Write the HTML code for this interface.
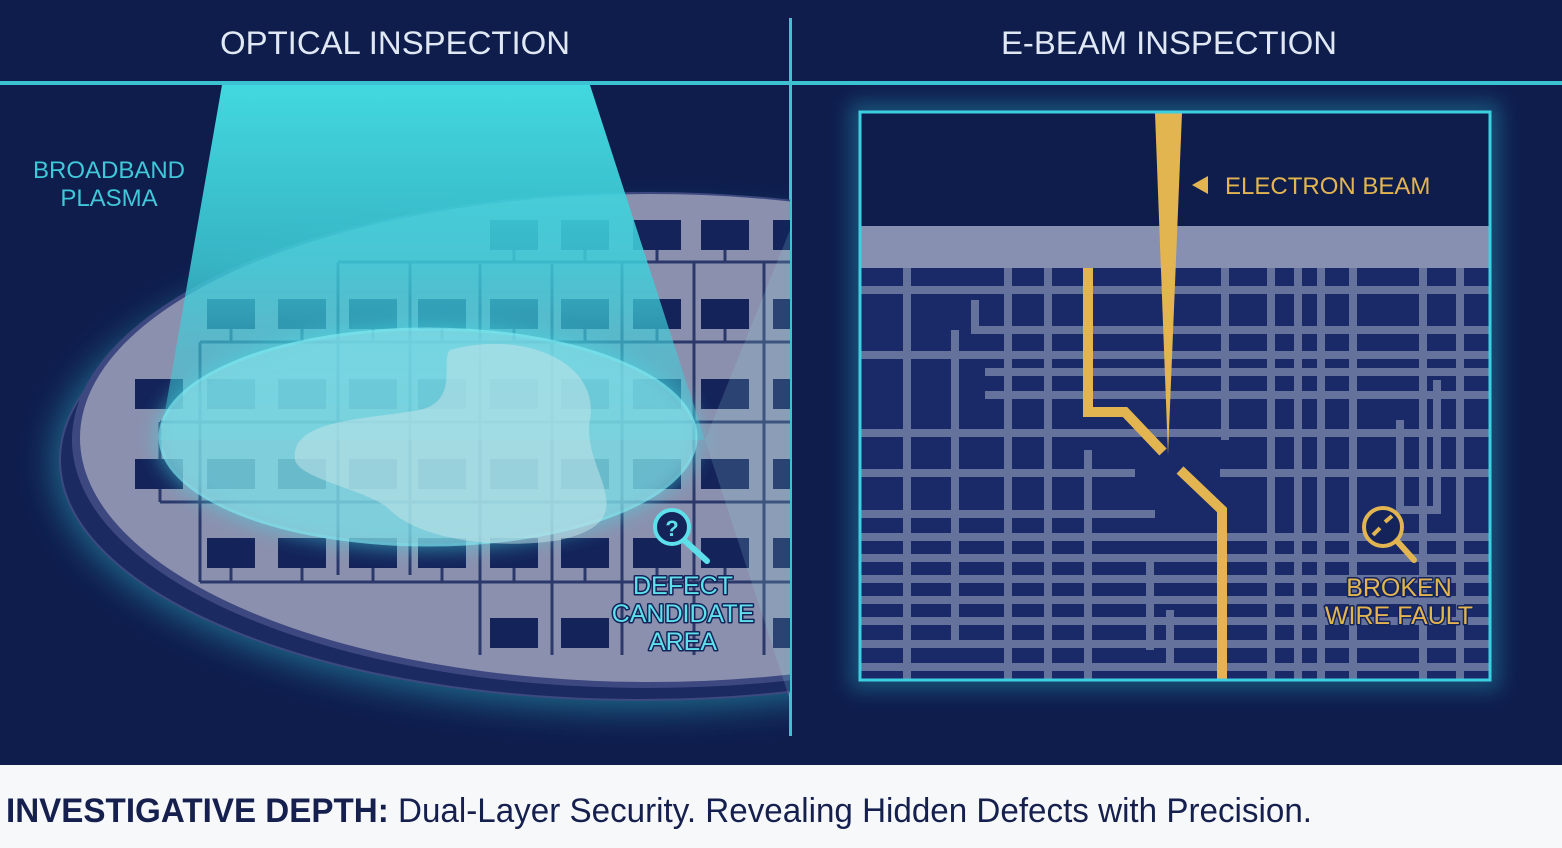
<!DOCTYPE html>
<html><head><meta charset="utf-8"><style>
html,body{margin:0;padding:0;background:#0f1d4d;}
svg{display:block;}
text{font-family:"Liberation Sans",sans-serif;}
</style></head><body>
<svg width="1562" height="848" viewBox="0 0 1562 848" xmlns="http://www.w3.org/2000/svg">
<defs>
<clipPath id="lp"><rect x="0" y="85" width="790" height="680"/></clipPath>
<clipPath id="bx"><rect x="861" y="113" width="628" height="566"/></clipPath>
<filter id="gl" x="-30%" y="-30%" width="160%" height="160%"><feGaussianBlur stdDeviation="10"/></filter>
<filter id="gw" x="-30%" y="-30%" width="160%" height="160%"><feGaussianBlur stdDeviation="18"/></filter>
<linearGradient id="beam" x1="0" y1="0" x2="0" y2="1"><stop offset="0" stop-color="#42d8e0"/><stop offset="0.5" stop-color="#3ecfda" stop-opacity="0.85"/><stop offset="1" stop-color="#3ecfda" stop-opacity="0.35"/></linearGradient>
</defs>
<rect width="1562" height="848" fill="#0f1d4d"/>
<text x="395" y="54" font-size="32" fill="#dfe8f3" text-anchor="middle" textLength="350" lengthAdjust="spacingAndGlyphs">OPTICAL INSPECTION</text>
<text x="1169" y="54" font-size="32" fill="#dfe8f3" text-anchor="middle" textLength="336" lengthAdjust="spacingAndGlyphs">E-BEAM INSPECTION</text>
<rect x="0" y="81" width="1562" height="4" fill="#3bc3d3"/>
<rect x="789" y="18" width="3" height="718" fill="#3bc3d3"/>

<g clip-path="url(#lp)">
  <ellipse cx="640" cy="462" rx="585" ry="245" fill="#2fb6c8" opacity="0.55" filter="url(#gw)"/>
  <ellipse cx="640" cy="460" rx="580" ry="240" fill="#1c2a62" stroke="#3d4a80" stroke-width="2"/>
  <ellipse cx="648" cy="440" rx="576" ry="248" fill="#3d4880"/>
  <ellipse cx="650" cy="438" rx="570" ry="244" fill="#8b90ae"/>
  <g fill="#14235a">
  <rect x="490" y="220" width="48" height="30"/><rect x="561" y="220" width="48" height="30"/><rect x="633" y="220" width="48" height="30"/><rect x="701" y="220" width="48" height="30"/><rect x="773" y="220" width="48" height="30"/>
  <rect x="207" y="299" width="48" height="30"/><rect x="278" y="299" width="48" height="30"/><rect x="349" y="299" width="48" height="30"/><rect x="418" y="299" width="48" height="30"/><rect x="490" y="299" width="48" height="30"/><rect x="561" y="299" width="48" height="30"/><rect x="633" y="299" width="48" height="30"/><rect x="701" y="299" width="48" height="30"/><rect x="773" y="299" width="48" height="30"/>
  <rect x="135" y="379" width="48" height="30"/><rect x="207" y="379" width="48" height="30"/><rect x="278" y="379" width="48" height="30"/><rect x="349" y="379" width="48" height="30"/><rect x="418" y="379" width="48" height="30"/><rect x="490" y="379" width="48" height="30"/><rect x="561" y="379" width="48" height="30"/><rect x="633" y="379" width="48" height="30"/><rect x="701" y="379" width="48" height="30"/><rect x="773" y="379" width="48" height="30"/>
  <rect x="135" y="459" width="48" height="30"/><rect x="207" y="459" width="48" height="30"/><rect x="278" y="459" width="48" height="30"/><rect x="349" y="459" width="48" height="30"/><rect x="418" y="459" width="48" height="30"/><rect x="490" y="459" width="48" height="30"/><rect x="561" y="459" width="48" height="30"/><rect x="633" y="459" width="48" height="30"/><rect x="701" y="459" width="48" height="30"/><rect x="773" y="459" width="48" height="30"/>
  <rect x="207" y="538" width="48" height="30"/><rect x="278" y="538" width="48" height="30"/><rect x="349" y="538" width="48" height="30"/><rect x="418" y="538" width="48" height="30"/><rect x="490" y="538" width="48" height="30"/><rect x="561" y="538" width="48" height="30"/><rect x="633" y="538" width="48" height="30"/><rect x="701" y="538" width="48" height="30"/><rect x="773" y="538" width="48" height="30"/>
  <rect x="490" y="618" width="48" height="30"/><rect x="561" y="618" width="48" height="30"/><rect x="773" y="618" width="48" height="30"/>
  </g>
  <g stroke="#14235a" stroke-width="3" fill="none" opacity="0.8">
    <path d="M338 262V575M410 262V575M480 262V655M552 262V655M622 262V655M694 262V655M764 262V655"/>
    <path d="M338 262H790M200 342H790M160 422H790M160 502H790M200 582H790"/>
    <path d="M200 342V582M160 422V502"/>
    <path d="M231 329V342M302 329V342M373 329V342M442 329V342M514 329V342M585 329V342M657 329V342M725 329V342"/>
    <path d="M231 568V582M302 568V582M373 568V582M442 568V582M514 568V582M585 568V582M657 568V582M725 568V582"/>
    <path d="M514 250V262M585 250V262M657 250V262M725 250V262"/>
  </g>
  <polygon points="222,85 590,85 705,440 160,440" fill="url(#beam)"/>
  <polygon points="705,440 790,230 790,700" fill="#8fd8e6" opacity="0.18"/>
  <ellipse cx="428" cy="437" rx="272" ry="112" fill="#46dbe6" opacity="0.55" filter="url(#gl)"/>
  <ellipse cx="428" cy="437" rx="268" ry="108" fill="#8fdde6" opacity="0.6" stroke="#8af0f6" stroke-width="3"/>
  <path d="M450 350 C520 330 600 360 590 420 C580 470 650 520 560 540 C500 550 420 540 390 510 C370 490 300 480 295 460 C290 420 360 420 420 410 C460 400 440 360 450 350Z" fill="#c7e6ea" opacity="0.5"/>
  <circle cx="672" cy="527" r="17" fill="#14235a" stroke="#5ee0ea" stroke-width="4"/>
  <text x="672" y="536" font-size="22" font-weight="bold" fill="#5ee0ea" text-anchor="middle">?</text>
  <line x1="685" y1="541" x2="707" y2="561" stroke="#5ee0ea" stroke-width="6" stroke-linecap="round"/>
  <g font-size="25" fill="#5ee0ea" text-anchor="middle" stroke="#14235a" stroke-width="3" paint-order="stroke" stroke-linejoin="round">
  <text x="683" y="594">DEFECT</text><text x="683" y="622">CANDIDATE</text><text x="683" y="650">AREA</text>
  </g>
</g>
<g font-size="24" fill="#3fc8d8" text-anchor="middle">
<text x="109" y="178">BROADBAND</text><text x="109" y="206">PLASMA</text>
</g>

<rect x="850" y="102" width="650" height="588" fill="#2bb8cc" opacity="0.35" filter="url(#gl)"/>
<rect x="860" y="112" width="630" height="568" fill="#0f1d4d"/>
<g clip-path="url(#bx)">
  <rect x="860" y="268" width="630" height="412" fill="#1a2a68"/>
  <rect x="860" y="226" width="630" height="42" fill="#8790b0"/>
  <g stroke="#6e7aa2" stroke-width="8" fill="none" opacity="0.9">
    <path d="M860 290H1490M985 330H1490M860 355H1490M985 372H1490M985 395H1490M860 433H1490M860 473H1135M1220 473H1490M860 514H1155M860 537H1490M860 558H1490M860 579H1490M860 600H1490M860 621H1490M860 644H1490M860 667H1490"/>
    <path d="M907 268V680M1008 268V680M1048 268V680M1088 450V680M1225 268V440M1271 268V680M1298 268V680M1321 268V680M1353 268V680M1423 268V680M1460 268V680"/>
    <path d="M955 330V640M975 300V330H1008M1400 420V510H1437V380"/>
    <path d="M1150 560V650M1170 610V670"/>
  </g>
  <polygon points="1155,113 1182,113 1168,455" fill="#e2b551"/>
  <polygon points="1208,176 1208,194 1192,185" fill="#e2b551"/>
  <text x="1225" y="194" font-size="24" fill="#e2b551">ELECTRON BEAM</text>
  <path d="M1088 268V412H1125L1163 452" stroke="#e2b551" stroke-width="10" fill="none"/>
  <path d="M1180 470L1222 510V680" stroke="#e2b551" stroke-width="10" fill="none"/>
  <circle cx="1383" cy="527" r="19" fill="#14235a" stroke="#e2b551" stroke-width="4"/>
  <path d="M1373 535l7-7M1385 522l7-6" stroke="#e2b551" stroke-width="4"/>
  <line x1="1397" y1="541" x2="1414" y2="560" stroke="#e2b551" stroke-width="6" stroke-linecap="round"/>
  <g font-size="25" fill="#e2b551" text-anchor="middle" stroke="#14235a" stroke-width="3" paint-order="stroke" stroke-linejoin="round">
  <text x="1399" y="596">BROKEN</text><text x="1399" y="624">WIRE FAULT</text>
  </g>
</g>
<rect x="860" y="112" width="630" height="568" fill="none" stroke="#3ccfe0" stroke-width="3"/>

<rect x="0" y="765" width="1562" height="83" fill="#f7f8f9"/>
<text x="6" y="822" font-size="34" fill="#15204f" textLength="1306" lengthAdjust="spacingAndGlyphs"><tspan font-weight="bold">INVESTIGATIVE DEPTH:</tspan> Dual-Layer Security. Revealing Hidden Defects with Precision.</text>
</svg>
</body></html>
